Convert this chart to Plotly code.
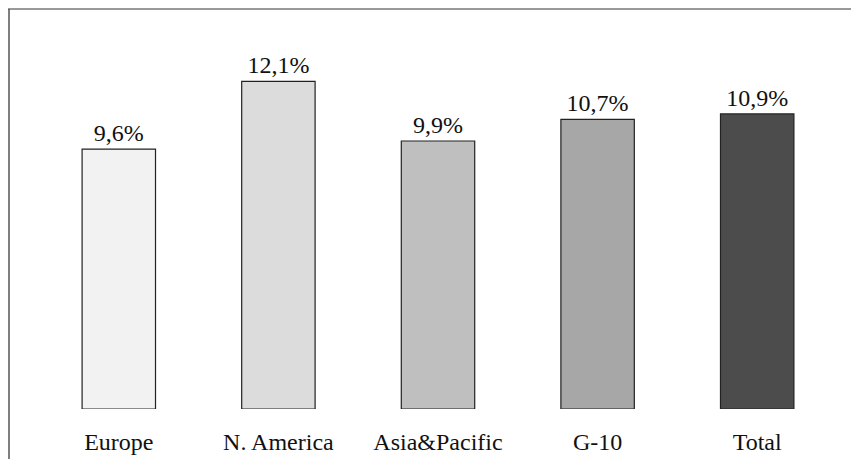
import plotly.graph_objects as go

categories = ["Europe", "N. America", "Asia&Pacific", "G-10", "Total"]
values = [9.6, 12.1, 9.9, 10.7, 10.9]
colors = ["#f2f2f2", "#dcdcdc", "#bfbfbf", "#a7a7a7", "#4c4c4c"]

labels = [f"{v:.1f}".replace(".", ",") + "%" for v in values]

SERIF = "Liberation Serif"

fig = go.Figure(go.Bar(
    x=categories, y=values,
    marker=dict(color=colors, line=dict(color="#222222", width=1.2)),
    width=0.46,
    text=labels, textposition="outside", cliponaxis=False,
    textfont=dict(family=SERIF, size=24, color="#111111"),
))

W, H = 851, 451
L, R, T, B = 31, 22, 22, 50
pw, ph = W - L - R, H - T - B

fig.update_layout(
    template="none",
    width=W, height=H,
    margin=dict(l=L, r=R, t=T, b=B),
    paper_bgcolor="white", plot_bgcolor="white",
    showlegend=False,
    font=dict(family=SERIF, size=24, color="#111111"),
    xaxis=dict(showline=False, showgrid=False, zeroline=False,
               ticks="outside", ticklen=11, tickcolor="rgba(0,0,0,0)",
               tickfont=dict(family=SERIF, size=24, color="#111111")),
    yaxis=dict(range=[0, 14], visible=False),
    shapes=[
        dict(type="line", xref="paper", yref="paper",
             x0=-L / pw, x1=(W - L) / pw, y0=(ph + T - 1) / ph, y1=(ph + T - 1) / ph,
             line=dict(color="#777777", width=1.5)),
        dict(type="line", xref="paper", yref="paper",
             x0=(1 - L) / pw, x1=(1 - L) / pw, y0=(ph + T - 1) / ph, y1=-B / ph,
             line=dict(color="#555555", width=1.5)),
    ],
)

fig.write_html("out.html")
